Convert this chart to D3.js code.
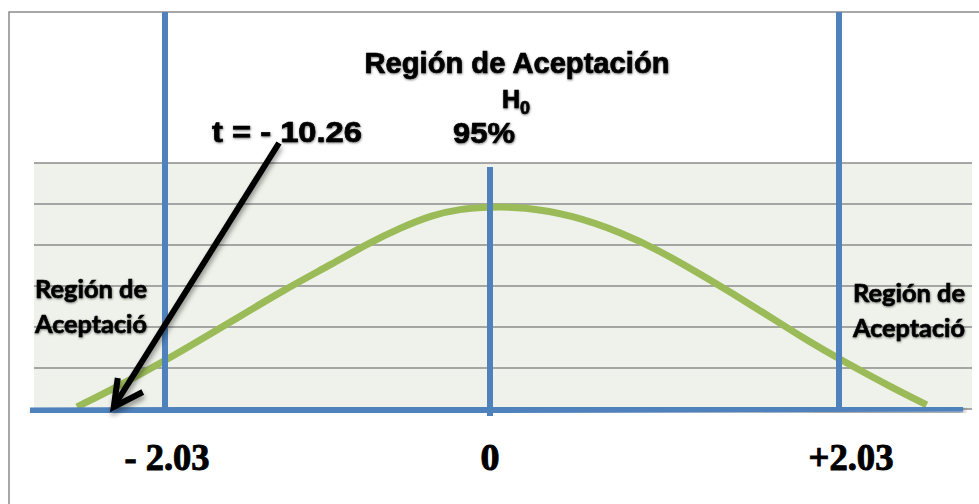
<!DOCTYPE html>
<html>
<head>
<meta charset="utf-8">
<script src="https://cdn.jsdelivr.net/npm/d3@7"></script>
<style>
  body { margin: 0; background: #fff; }
  svg { display: block; }
</style>
</head>
<body>
<svg id="chart" width="979" height="504"></svg>
<script>
// data
var curveZ = [-2.58, -2.33, -2.04, -1.6, -1.29, -0.98, -0.77, -0.56, -0.36, -0.19, 0, 0.19, 0.48, 0.77, 0.97, 1.26, 1.55, 1.84, 2.04, 2.33, 2.54];
var curveH = [0.05, 0.54, 1.15, 2.17, 2.9, 3.55, 4.02, 4.42, 4.73, 4.88, 4.93, 4.93, 4.73, 4.29, 3.9, 3.2, 2.46, 1.68, 1.2, 0.54, 0.1];
var tickValues = [-2.03, 0, 2.03];
var tickLabels = ['- 2.03', '0', '+2.03'];
var gridLevels = [0, 1, 2, 3, 4, 5, 6];
var tValue = '- 10.26';
var confidence = '95%';
var arrowZ = -2.35; // where the arrow lands on the axis

var svg = d3.select('#chart');

// x in t units, y in grid bands
var x = d3.scaleLinear().domain([-2.03, 0, 2.03]).range([165, 490, 839]);
var y = d3.scaleLinear().domain([0, 6]).range([409, 163]);

// filters
var defs = svg.append('defs');
defs.append('filter').attr('id', 'shadow')
    .attr('x', '-20%').attr('y', '-20%').attr('width', '140%').attr('height', '160%')
  .append('feDropShadow')
    .attr('dx', 1).attr('dy', 4).attr('stdDeviation', 2.5)
    .attr('flood-color', '#000').attr('flood-opacity', 0.4);
defs.append('filter').attr('id', 'glow')
    .attr('x', '-10%').attr('y', '-30%').attr('width', '120%').attr('height', '160%')
  .append('feDropShadow')
    .attr('dx', 0.5).attr('dy', 1).attr('stdDeviation', 1.2)
    .attr('flood-color', '#000').attr('flood-opacity', 0.5);

// outer frame
svg.append('path')
    .attr('d', 'M9,504 L9,12 L979,12')
    .attr('fill', 'none').attr('stroke', '#8a8a8a').attr('stroke-width', 1.5);

// plot area
svg.append('rect')
    .attr('x', 34).attr('y', y(6))
    .attr('width', 972 - 34).attr('height', y(0) - y(6))
    .attr('fill', '#eff2ea');

svg.selectAll('line.grid').data(gridLevels).enter().append('line')
    .attr('class', 'grid')
    .attr('x1', 34).attr('x2', 972)
    .attr('y1', d => y(d)).attr('y2', d => y(d))
    .attr('stroke', '#8c8c8c').attr('stroke-width', 1.4);

// normal curve
var curvePts = curveZ.map((z, i) => [z, curveH[i]]);
svg.append('path')
    .datum(curvePts)
    .attr('d', d3.line().x(d => x(d[0])).y(d => y(d[1])).curve(d3.curveBasis))
    .attr('fill', 'none').attr('stroke', '#9bbb59').attr('stroke-width', 7);

// critical value lines
svg.selectAll('line.crit').data(tickValues).enter().append('line')
    .attr('class', 'crit')
    .attr('x1', d => x(d)).attr('x2', d => x(d))
    .attr('y1', d => d === 0 ? 167 : 12)
    .attr('y2', d => d === 0 ? 416 : 410)
    .attr('stroke', '#4f81bd').attr('stroke-width', 6);

// axis line
svg.append('line')
    .attr('x1', 30).attr('y1', y(0) + 2)
    .attr('x2', 963).attr('y2', y(0) - 1)
    .attr('stroke', '#4f81bd').attr('stroke-width', 7)
    .attr('filter', 'url(#shadow)');

// tick labels
svg.selectAll('text.tick').data(tickValues).enter().append('text')
    .attr('class', 'tick')
    .attr('x', d => x(d) + (d > 0 ? 12 : d < 0 ? 2 : 0))
    .attr('y', 470)
    .attr('text-anchor', 'middle')
    .attr('font-family', '"Liberation Serif", "Times New Roman", serif')
    .attr('font-weight', 'bold').attr('font-size', 38)
    .attr('stroke', '#000').attr('stroke-width', 1)
    .attr('textLength', (d, i) => tickLabels[i].length > 1 ? 85 : null)
    .attr('lengthAdjust', 'spacingAndGlyphs')
    .text((d, i) => tickLabels[i]);

// arrow from the t label down to the axis
var tip = [x(arrowZ), y(0) - 2];
var arrow = svg.append('g').attr('filter', 'url(#shadow)');
arrow.append('line')
    .attr('x1', 279).attr('y1', 143)
    .attr('x2', tip[0] + 1).attr('y2', tip[1] - 2)
    .attr('stroke', '#000').attr('stroke-width', 6);
arrow.append('path')
    .attr('d', 'M' + (tip[0] + 4) + ',' + (tip[1] - 29) + ' L' + tip[0] + ',' + tip[1] + ' L' + (tip[0] + 29) + ',' + (tip[1] - 15))
    .attr('fill', 'none').attr('stroke', '#000').attr('stroke-width', 6)
    .attr('stroke-linejoin', 'miter');

// top texts
var header = svg.append('g')
    .attr('font-family', 'Arial, "Liberation Sans", sans-serif').attr('font-weight', 'bold')
    .attr('fill', '#000').attr('stroke', '#000').attr('stroke-width', 0.7)
    .attr('filter', 'url(#glow)');

header.append('text')
    .attr('x', 517).attr('y', 73).attr('text-anchor', 'middle')
    .attr('font-size', 29).attr('textLength', 305).attr('lengthAdjust', 'spacingAndGlyphs')
    .text('Región de Aceptación');

var h0 = header.append('text')
    .attr('x', 502).attr('y', 108)
    .attr('font-size', 25);
h0.append('tspan').text('H');
h0.append('tspan').attr('font-size', 18).attr('dy', 6).text('0');

header.append('text')
    .attr('x', 453).attr('y', 143)
    .attr('font-size', 29).attr('textLength', 62).attr('lengthAdjust', 'spacingAndGlyphs')
    .text(confidence);

header.append('text')
    .attr('x', 212).attr('y', 142)
    .attr('font-size', 29).attr('textLength', 150).attr('lengthAdjust', 'spacingAndGlyphs')
    .text('t = ' + tValue);

// rejection side labels
var sides = [{x: 35, y: 298}, {x: 853, y: 302}];
sides.forEach(function(s){
    var g = svg.append('g')
        .attr('font-family', 'Lato, "Open Sans", sans-serif')
        .attr('font-weight', 'bold').attr('font-size', 24)
        .attr('stroke', '#000').attr('stroke-width', 0.6)
        .attr('filter', 'url(#glow)');
    g.append('text').attr('x', s.x).attr('y', s.y)
        .attr('textLength', 112).attr('lengthAdjust', 'spacingAndGlyphs')
        .text('Región de');
    g.append('text').attr('x', s.x).attr('y', s.y + 35)
        .attr('textLength', 112).attr('lengthAdjust', 'spacingAndGlyphs')
        .text('Aceptació');
});
</script>
</body>
</html>
